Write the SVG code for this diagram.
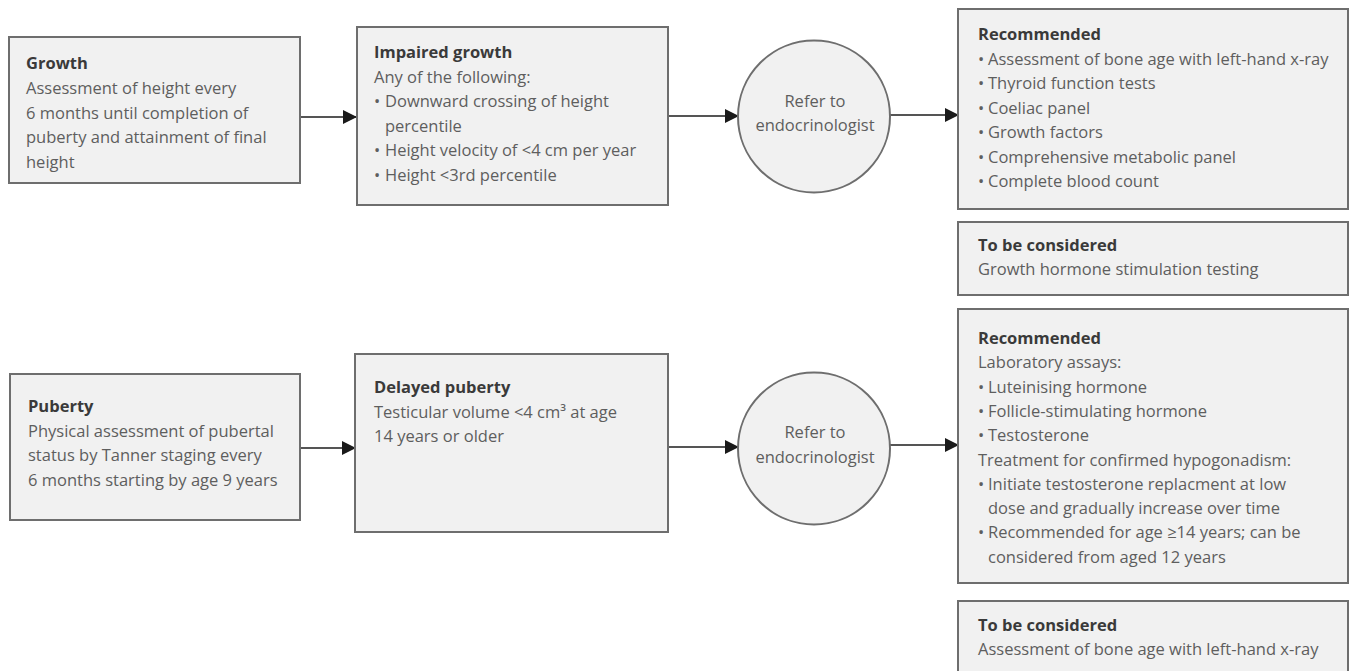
<svg xmlns="http://www.w3.org/2000/svg" width="1352" height="671" viewBox="0 0 1352 671">
<defs>
<style>
.box{fill:#f1f1f1;stroke:#6e6e6e;stroke-width:2}
.t{font-family:"Open Sans","Liberation Sans",sans-serif;font-size:16.5px;fill:#5e5e5e}
.h{font-weight:bold;fill:#3a3a3a}
.c{text-anchor:middle}
.ln{stroke:#555;stroke-width:1.8;fill:none}
</style>
<marker id="ah" viewBox="0 0 14 14" refX="13" refY="7" markerWidth="14" markerHeight="14" markerUnits="userSpaceOnUse" orient="auto">
<path d="M0,0 L14,7 L0,14 Z" fill="#1a1a1a"/>
</marker>
</defs>
<rect width="1352" height="671" fill="#ffffff"/>

<g id="connectors">
<line class="ln" x1="300" y1="117" x2="356" y2="117" marker-end="url(#ah)"/>
<line class="ln" x1="668" y1="116" x2="738" y2="116" marker-end="url(#ah)"/>
<line class="ln" x1="890" y1="115" x2="958" y2="115" marker-end="url(#ah)"/>
<line class="ln" x1="300" y1="448" x2="355" y2="448" marker-end="url(#ah)"/>
<line class="ln" x1="668" y1="447" x2="738" y2="447" marker-end="url(#ah)"/>
<line class="ln" x1="890" y1="445" x2="958" y2="445" marker-end="url(#ah)"/>
</g>

<g id="growth">
<rect class="box" x="9" y="37" width="291" height="146"/>
<text class="t h" x="26" y="69">Growth</text>
<text class="t" x="26" y="94">Assessment of height every</text>
<text class="t" x="26" y="118.5">6 months until completion of</text>
<text class="t" x="26" y="143">puberty and attainment of final</text>
<text class="t" x="26" y="167.5">height</text>
</g>

<g id="impaired-growth">
<rect class="box" x="357" y="27" width="311" height="178"/>
<text class="t h" x="374" y="58">Impaired growth</text>
<text class="t" x="374" y="82.5">Any of the following:</text>
<text class="t" x="374" y="107">•</text><text class="t" x="385" y="107">Downward crossing of height</text>
<text class="t" x="385" y="131.5">percentile</text>
<text class="t" x="374" y="156">•</text><text class="t" x="385" y="156">Height velocity of &lt;4 cm per year</text>
<text class="t" x="374" y="180.5">•</text><text class="t" x="385" y="180.5">Height &lt;3rd percentile</text>
</g>

<g id="refer-1">
<circle class="box" cx="814" cy="116.5" r="76"/>
<text class="t c" x="815" y="107">Refer to</text>
<text class="t c" x="815" y="131">endocrinologist</text>
</g>

<g id="recommended-1">
<rect class="box" x="958" y="9" width="390" height="200"/>
<text class="t h" x="978" y="40">Recommended</text>
<text class="t" x="978" y="64.5">•</text><text class="t" x="988" y="64.5">Assessment of bone age with left-hand x-ray</text>
<text class="t" x="978" y="89">•</text><text class="t" x="988" y="89">Thyroid function tests</text>
<text class="t" x="978" y="113.5">•</text><text class="t" x="988" y="113.5">Coeliac panel</text>
<text class="t" x="978" y="138">•</text><text class="t" x="988" y="138">Growth factors</text>
<text class="t" x="978" y="162.5">•</text><text class="t" x="988" y="162.5">Comprehensive metabolic panel</text>
<text class="t" x="978" y="187">•</text><text class="t" x="988" y="187">Complete blood count</text>
</g>

<g id="consider-1">
<rect class="box" x="958" y="222" width="390" height="73"/>
<text class="t h" x="978" y="251">To be considered</text>
<text class="t" x="978" y="275">Growth hormone stimulation testing</text>
</g>

<g id="puberty">
<rect class="box" x="10" y="374" width="290" height="146"/>
<text class="t h" x="28" y="412">Puberty</text>
<text class="t" x="28" y="436.5">Physical assessment of pubertal</text>
<text class="t" x="28" y="461">status by Tanner staging every</text>
<text class="t" x="28" y="485.5">6 months starting by age 9 years</text>
</g>

<g id="delayed-puberty">
<rect class="box" x="355" y="354" width="313" height="178"/>
<text class="t h" x="374" y="393">Delayed puberty</text>
<text class="t" x="374" y="417.5">Testicular volume &lt;4 cm³ at age</text>
<text class="t" x="374" y="442">14 years or older</text>
</g>

<g id="refer-2">
<circle class="box" cx="814" cy="448.5" r="76"/>
<text class="t c" x="815" y="438">Refer to</text>
<text class="t c" x="815" y="463">endocrinologist</text>
</g>

<g id="recommended-2">
<rect class="box" x="958" y="309" width="390" height="274"/>
<text class="t h" x="978" y="344">Recommended</text>
<text class="t" x="978" y="368.3">Laboratory assays:</text>
<text class="t" x="978" y="392.6">•</text><text class="t" x="988" y="392.6">Luteinising hormone</text>
<text class="t" x="978" y="416.9">•</text><text class="t" x="988" y="416.9">Follicle-stimulating hormone</text>
<text class="t" x="978" y="441.2">•</text><text class="t" x="988" y="441.2">Testosterone</text>
<text class="t" x="978" y="465.5">Treatment for confirmed hypogonadism:</text>
<text class="t" x="978" y="489.8">•</text><text class="t" x="988" y="489.8">Initiate testosterone replacment at low</text>
<text class="t" x="988" y="514.1">dose and gradually increase over time</text>
<text class="t" x="978" y="538.4">•</text><text class="t" x="988" y="538.4">Recommended for age ≥14 years; can be</text>
<text class="t" x="988" y="562.7">considered from aged 12 years</text>
</g>

<g id="consider-2">
<rect class="box" x="958" y="601" width="390" height="90"/>
<text class="t h" x="978" y="631">To be considered</text>
<text class="t" x="978" y="655">Assessment of bone age with left-hand x-ray</text>
</g>
</svg>
